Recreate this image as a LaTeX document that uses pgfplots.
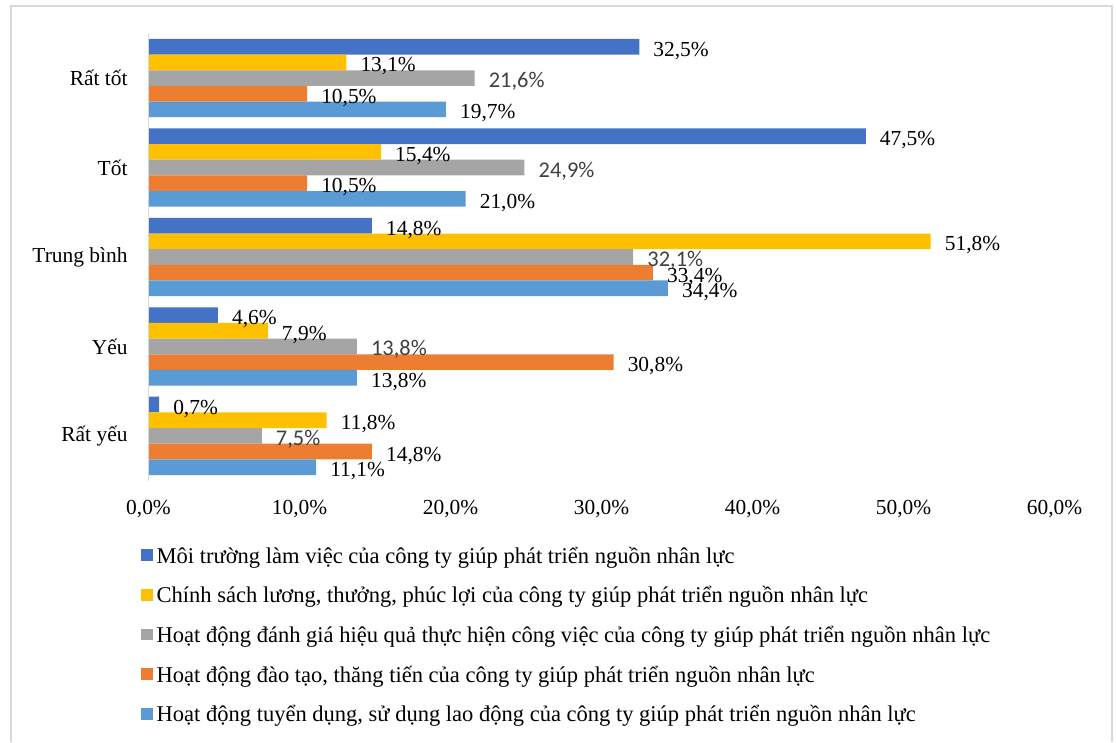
\documentclass[border=0pt]{standalone}
\usepackage{fontspec}
\setmainfont{Liberation Serif}
\newfontfamily\carlito{Carlito}
\usepackage{pgfplots}
\usepackage{pgfplotstable}
\pgfplotsset{compat=1.18}
\definecolor{c1}{HTML}{4472C4}
\definecolor{c2}{HTML}{FFC000}
\definecolor{c3}{HTML}{A5A5A5}
\definecolor{c4}{HTML}{ED7D31}
\definecolor{c5}{HTML}{5B9BD5}
\definecolor{framec}{HTML}{D9D9D9}
\definecolor{lblgray}{HTML}{404040}
\pgfplotstableread{
cat s1 s2 s3 s4 s5
4 32.5 13.1 21.6 10.5 19.7
3 47.5 15.4 24.9 10.5 21.0
2 14.8 51.8 32.1 33.4 34.4
1 4.6 7.9 13.8 30.8 13.8
0 0.7 11.8 7.5 14.8 11.1
}\data
\newcommand{\fs}{\fontsize{21.5}{25}\selectfont}
\newcommand{\lfs}{\fontsize{22.6}{26}\selectfont}
\begin{document}
\begin{tikzpicture}[x=1bp,y=1bp]
\begin{axis}[
  width=906bp, height=447.2bp, scale only axis,
  xmin=0, xmax=60, ymin=-0.5, ymax=4.5,
  xbar, bar width=0.175,
  axis line style={draw=none},
  major tick length=0,
  xtick={0,10,20,30,40,50,60},
  xticklabels={{0,0\%},{10,0\%},{20,0\%},{30,0\%},{40,0\%},{50,0\%},{60,0\%}},
  ytick={0,1,2,3,4},
  yticklabels={Rất yếu,Yếu,Trung bình,Tốt,Rất tốt},
  tick label style={font=\fs, text=black},
  xticklabel style={yshift=-16bp},
  yticklabel style={xshift=-17.5bp},
  clip=false,
  point meta=x,
  nodes near coords={\pgfmathprintnumber[fixed,fixed zerofill,precision=1,use comma,assume math mode=true]{\pgfplotspointmeta}\%},
  nodes near coords style={font=\fs, text=black, anchor=base west, inner sep=0pt, xshift=14bp, yshift=-9.5bp},
  legend style={at={(0,0)}, anchor=north west, xshift=-7.5bp, yshift=-67.4bp,
    draw=none, fill=none, inner sep=0pt, outer sep=0pt, font=\lfs,
    nodes={inner sep=0pt, text height=15bp, text depth=5bp},
    row sep=19.7bp, column sep=4bp},
  legend cell align=left,
  legend image code/.code={\fill[#1] (0bp,-2.85bp) rectangle (11.7bp,8.85bp);},
]
\addplot[fill=c1, draw=none, bar shift=0.35, nodes near coords={}] table[x=s1,y=cat]\data;
\addlegendentry{Môi trường làm việc của công ty giúp phát triển nguồn nhân lực}
\addplot[fill=c2, draw=none, bar shift=0.175, nodes near coords={}] table[x=s2,y=cat]\data;
\addlegendentry{Chính sách lương, thưởng, phúc lợi của công ty giúp phát triển nguồn nhân lực}
\addplot[fill=c3, draw=none, bar shift=0, nodes near coords={}] table[x=s3,y=cat]\data;
\addlegendentry{Hoạt động đánh giá hiệu quả thực hiện công việc của công ty giúp phát triển nguồn nhân lực}
\addplot[fill=c4, draw=none, bar shift=-0.175, nodes near coords={}] table[x=s4,y=cat]\data;
\addlegendentry{Hoạt động đào tạo, thăng tiến của công ty giúp phát triển nguồn nhân lực}
\addplot[fill=c5, draw=none, bar shift=-0.35, nodes near coords={}] table[x=s5,y=cat]\data;
\addlegendentry{Hoạt động tuyển dụng, sử dụng lao động của công ty giúp phát triển nguồn nhân lực}
% labels on top
\addplot[draw=none, fill=none, bar shift=0.35, forget plot] table[x=s1,y=cat]\data;
\addplot[draw=none, fill=none, bar shift=0.175, forget plot] table[x=s2,y=cat]\data;
\addplot[draw=none, fill=none, bar shift=0, forget plot,
  nodes near coords style={font=\carlito\fontsize{22.5}{26}\selectfont, text=lblgray}] table[x=s3,y=cat]\data;
\addplot[draw=none, fill=none, bar shift=-0.175, forget plot] table[x=s4,y=cat]\data;
\addplot[draw=none, fill=none, bar shift=-0.35, forget plot] table[x=s5,y=cat]\data;
\draw[color=framec, line width=1.5bp] (axis cs:0,-0.5) -- (axis cs:0,4.5);
\coordinate (SW) at (axis cs:0,-0.5);
\end{axis}
\begin{scope}[shift={(SW)}, xshift=-148.5bp, yshift=-261.4bp]
\draw[color=framec, line width=1.3bp] (11,0) -- (11,736) -- (1112,736) -- (1112,0);
\path[use as bounding box] (0,0) rectangle (1116,742);
\end{scope}
\end{tikzpicture}
\end{document}
